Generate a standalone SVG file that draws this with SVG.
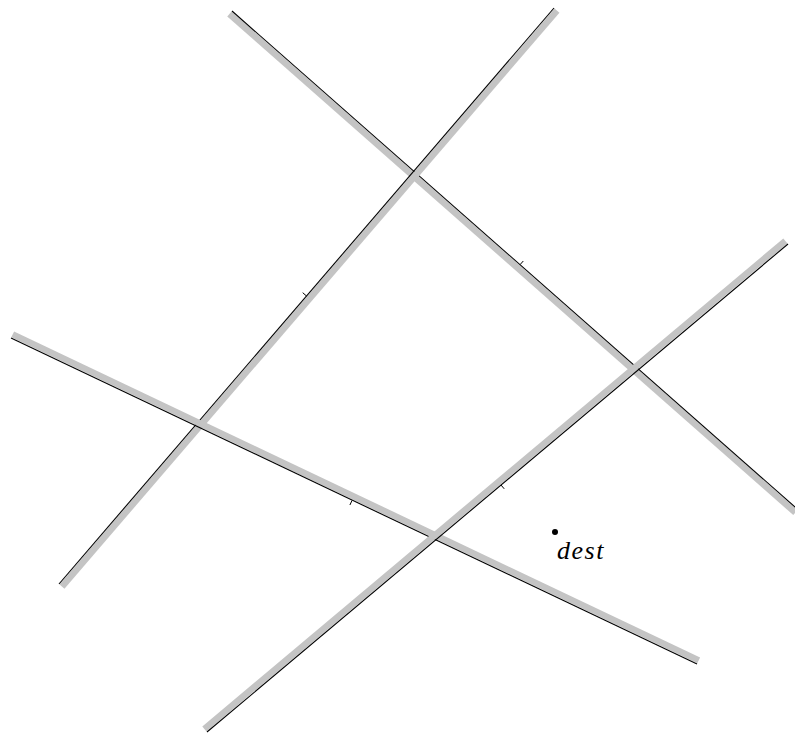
<svg xmlns="http://www.w3.org/2000/svg" width="795" height="738" viewBox="0 0 795 738">
<style>
.band{stroke:#c4c4c4;stroke-width:6.5;fill:none}
.line{stroke:#000;stroke-width:1.1;fill:none}
.tick{stroke:#000;stroke-width:1;fill:none}
.lbl{font-family:"Liberation Serif",serif;font-style:italic;font-size:26px;letter-spacing:1.5px;fill:#000}
</style>
<rect width="795" height="738" fill="#fff"/>
<g id="connectors">
<g id="road1">
<line class="band" x1="229.4" y1="14" x2="795.4" y2="512.6"/>
<line class="line" x1="232" y1="11" x2="798" y2="509.6"/>
<line class="tick" x1="520" y1="264.7" x2="523.3" y2="261"/>
</g>
<g id="road2">
<line class="band" x1="557" y1="10.6" x2="62" y2="586.6"/>
<line class="line" x1="554" y1="8" x2="59" y2="584"/>
<line class="tick" x1="306.5" y1="296" x2="302.7" y2="292.7"/>
</g>
<g id="road3">
<line class="band" x1="12.7" y1="334.4" x2="698.7" y2="660.4"/>
<line class="line" x1="11" y1="338" x2="697" y2="664"/>
<line class="tick" x1="352" y1="500.5" x2="349.9" y2="505"/>
</g>
<g id="road4">
<line class="band" x1="785.4" y1="240.9" x2="204.4" y2="728.9"/>
<line class="line" x1="788" y1="244" x2="207" y2="732"/>
<line class="tick" x1="501" y1="485" x2="504.2" y2="488.8"/>
</g>
</g>
<g id="dest">
<circle cx="555" cy="532" r="3" fill="#000"/>
<text class="lbl" x="557" y="559">dest</text>
</g>
</svg>
